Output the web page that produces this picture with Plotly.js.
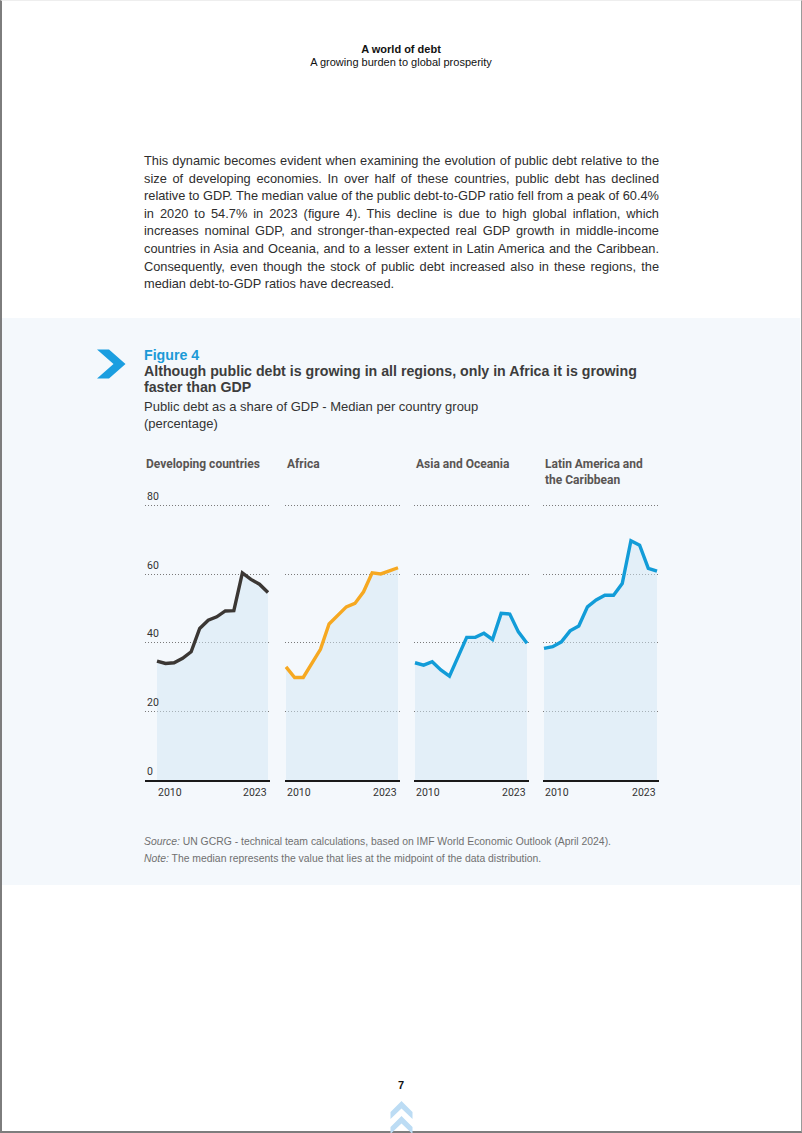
<!DOCTYPE html>
<html>
<head>
<meta charset="utf-8">
<script src="https://cdn.plot.ly/plotly-3.0.1.min.js"></script>
<style>
  html, body { margin: 0; padding: 0; }
  body { width: 802px; height: 1133px; position: relative; background: #fff; overflow: hidden;
         font-family: "Liberation Sans", Arial, sans-serif; color: #333; }
  .frame { position: absolute; left: 0; top: 0; width: 799px; height: 1130px;
           border-left: 2px solid #7d7d7d; border-right: 1px solid #9a9a9a; border-bottom: 2px solid #7d7d7d; border-top: 1px solid #eee; }
  .abs { position: absolute; }
  .hdr { left: 0; width: 802px; text-align: center; font-size: 11px; color: #111; }
  .para { left: 144px; top: 152px; width: 515px; font-size: 12.8px; line-height: 17.6px; color: #2e2e2e; }
  .para div { text-align: justify; text-align-last: justify; white-space: nowrap; }
  .para div.last { text-align-last: left; }
  .panel { left: 2px; top: 318px; width: 798px; height: 567px; background: #f4f8fc; }
  .figlbl { left: 144px; top: 347px; font-size: 14.2px; font-weight: bold; color: #1b9ad7; line-height: 17px; }
  .figttl { left: 144px; top: 363px; font-size: 14.2px; font-weight: bold; color: #3d3d3d; line-height: 16.3px; }
  .figsub { left: 144px; top: 397.5px; font-size: 13px; color: #333; line-height: 17px; }
  .src { left: 144px; font-size: 10.4px; color: #707070; }
  #chart { position: absolute; left: 0; top: 440px; width: 802px; height: 370px; }
</style>
</head>
<body>
<div class="frame"></div>
<div class="abs hdr" style="top:43px;font-weight:bold;">A world of debt</div>
<div class="abs hdr" style="top:56px;">A growing burden to global prosperity</div>

<div class="abs para">
  <div>This dynamic becomes evident when examining the evolution of public debt relative to the</div>
  <div>size of developing economies. In over half of these countries, public debt has declined</div>
  <div>relative to GDP. The median value of the public debt-to-GDP ratio fell from a peak of 60.4%</div>
  <div>in 2020 to 54.7% in 2023 (figure 4). This decline is due to high global inflation, which</div>
  <div>increases nominal GDP, and stronger-than-expected real GDP growth in middle-income</div>
  <div>countries in Asia and Oceania, and to a lesser extent in Latin America and the Caribbean.</div>
  <div>Consequently, even though the stock of public debt increased also in these regions, the</div>
  <div class="last">median debt-to-GDP ratios have decreased.</div>
</div>

<div class="abs panel"></div>
<svg class="abs" style="left:0;top:0;" width="802" height="1133">
  <polygon points="97,349.5 109,349.5 125.5,364 109,378.5 97,378.5 113.5,364" fill="#1b9ee0"/>
  <polygon points="390.5,1112 401.5,1101 412.5,1112 412.5,1119 401.5,1108.5 390.5,1119" fill="#bcdcf4"/>
  <polygon points="390.5,1127 401.5,1116 412.5,1127 412.5,1134 401.5,1123.5 390.5,1134" fill="#bcdcf4"/>
</svg>
<div class="abs figlbl">Figure 4</div>
<div class="abs figttl">Although public debt is growing in all regions, only in Africa it is growing<br>faster than GDP</div>
<div class="abs figsub">Public debt as a share of GDP - Median per country group<br>(percentage)</div>

<div id="chart"></div>

<div class="abs src" style="top:836px;"><i>Source:</i> UN GCRG - technical team calculations, based on IMF World Economic Outlook (April 2024).</div>
<div class="abs src" style="top:853px;"><i>Note:</i> The median represents the value that lies at the midpoint of the data distribution.</div>
<div class="abs hdr" style="top:1079px;font-weight:bold;">7</div>

<script>
// ---- data ----
const years = [2010, 2011, 2012, 2013, 2014, 2015, 2016, 2017, 2018, 2019, 2020, 2021, 2022, 2023];
const groupNames = ["Developing countries", "Africa", "Asia and Oceania", "Latin America and<br>the Caribbean"];
const developing = [34.7, 34.0, 34.2, 35.5, 37.4, 44.2, 46.6, 47.6, 49.3, 49.4, 60.4, 58.5, 57.1, 54.7];
const africa     = [33.0, 29.9, 29.9, 34.0, 38.1, 45.5, 48.1, 50.5, 51.5, 54.9, 60.4, 60.1, 61.0, 61.9];
const asia       = [34.2, 33.5, 34.5, 32.1, 30.3, 35.9, 41.6, 41.6, 42.8, 41.0, 48.6, 48.4, 43.2, 39.9];
const latam      = [38.4, 38.9, 40.3, 43.5, 44.9, 50.5, 52.5, 53.9, 53.9, 57.3, 69.8, 68.5, 61.7, 60.9];
const yTicks = [0, 20, 40, 60, 80];
const xTickLabels = ["2010", "2023"];

// ---- layout geometry (pixels in the 802-wide chart div) ----
const W = 802, H = 370;
const panels = [
  {gridL: 145, dataL: 157, dataR: 268, color: "#3b3734"},
  {gridL: 286, dataL: 286, dataR: 398, color: "#f6a821"},
  {gridL: 415, dataL: 415, dataR: 527, color: "#129cd8"},
  {gridL: 544, dataL: 544, dataR: 657, color: "#129cd8"}
];
const series = [developing, africa, asia, latam];
const pxPerUnit = (340 - 65.7) / 80;
const yMax = 81;
const yBottom = 340, yTop = 340 - yMax * pxPerUnit;   // px from chart top
const domY = [1 - yBottom / H, 1 - yTop / H];
const condensed = 'Roboto, "Liberation Sans", sans-serif';

const traces = [];
const layout = {
  width: W, height: H,
  margin: {l: 0, r: 0, t: 0, b: 0},
  paper_bgcolor: "rgba(0,0,0,0)", plot_bgcolor: "rgba(0,0,0,0)",
  showlegend: false,
  annotations: []
};

panels.forEach((p, i) => {
  const n = i + 1;
  const ax = n === 1 ? "" : String(n);
  const pxPerYr = (p.dataR - p.dataL) / (years[years.length - 1] - years[0]);
  const pad = 1.5;
  const left = p.gridL - (p.gridL === p.dataL ? pad : 0);
  const right = p.dataR + pad;
  const r0 = years[0] - (p.dataL - left) / pxPerYr;
  const r1 = years[years.length - 1] + (right - p.dataR) / pxPerYr;

  traces.push({
    x: years, y: series[i], type: "scatter", mode: "lines",
    xaxis: "x" + ax, yaxis: "y" + ax,
    line: {color: p.color, width: 3.4, shape: "linear"},
    fill: "tozeroy", fillcolor: "rgba(210,229,244,0.5)",
    hoverinfo: "skip"
  });

  layout["xaxis" + ax] = {
    domain: [left / W, right / W], range: [r0, r1],
    showgrid: false, zeroline: false, showticklabels: false, ticks: "",
    showline: true, linecolor: "#1a1a1a", linewidth: 1.5, anchor: "y" + ax, fixedrange: true
  };
  layout["yaxis" + ax] = {
    domain: domY, range: [0, yMax], tickvals: yTicks.slice(1),
    showgrid: true, gridcolor: "#7a7a7a", gridwidth: 1, griddash: "1px,2px",
    zeroline: false, showticklabels: false, ticks: "", showline: false,
    anchor: "x" + ax, fixedrange: true
  };

  // panel title
  layout.annotations.push({
    xref: "paper", yref: "paper", x: (p.gridL - 1) / W, y: 1 - 15 / H,
    xanchor: "left", yanchor: "top", align: "left", showarrow: false,
    text: "<b>" + groupNames[i] + "</b>",
    font: {family: condensed, size: 12, color: "#595553"}
  });
  // x tick labels (2010 left-aligned at start, 2023 right-aligned at end)
  layout.annotations.push({
    xref: "x" + ax, yref: "y" + ax, x: years[0], y: 0, xanchor: "left", yanchor: "top",
    xshift: -1, yshift: -4, showarrow: false, text: xTickLabels[0],
    font: {family: condensed, size: 10.5, color: "#333"}
  });
  layout.annotations.push({
    xref: "x" + ax, yref: "y" + ax, x: years[years.length - 1], y: 0, xanchor: "right", yanchor: "top",
    xshift: 1, yshift: -4, showarrow: false, text: xTickLabels[1],
    font: {family: condensed, size: 10.5, color: "#333"}
  });
});

// y tick labels on first panel, above the gridlines
yTicks.forEach(v => {
  layout.annotations.push({
    xref: "paper", yref: "y", x: 145 / W, y: v, xanchor: "left", yanchor: "middle",
    yshift: 9, showarrow: false, text: String(v),
    font: {family: condensed, size: 10.5, color: "#333"}
  });
});

Plotly.newPlot("chart", traces, layout, {staticPlot: true, displayModeBar: false});
</script>
</body>
</html>
